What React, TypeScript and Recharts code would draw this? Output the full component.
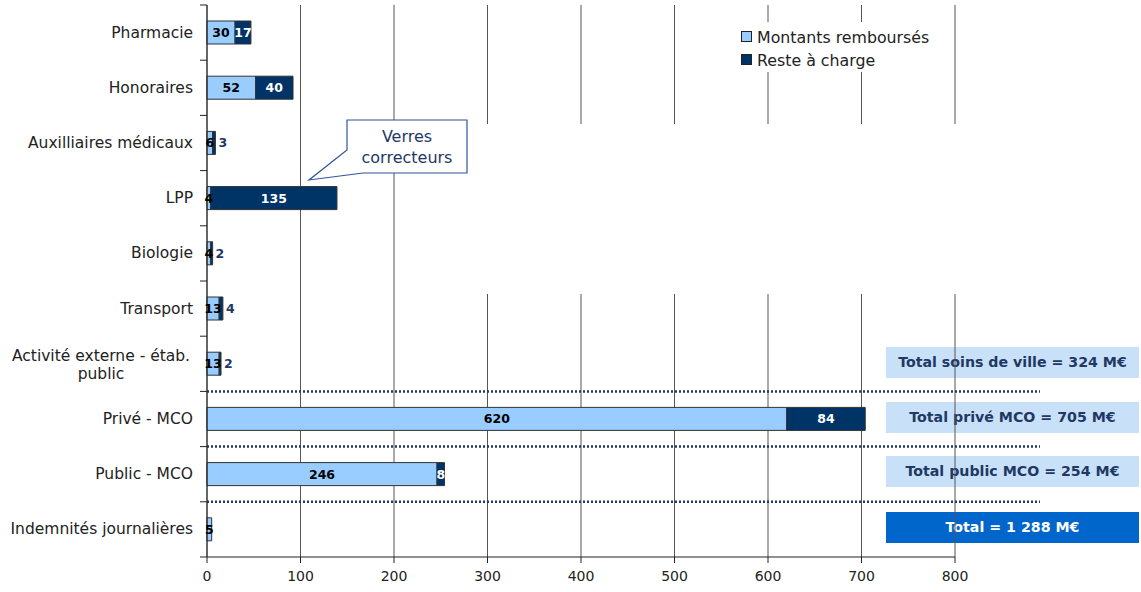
import { BarChart, Bar, XAxis, YAxis, CartesianGrid, LabelList } from 'recharts';

const categories = [
  'Pharmacie',
  'Honoraires',
  'Auxilliaires médicaux',
  'LPP',
  'Biologie',
  'Transport',
  'Activité externe - étab. public',
  'Privé - MCO',
  'Public - MCO',
  'Indemnités journalières',
];
const montantsRembourses = [30, 52, 6, 4, 4, 13, 13, 620, 246, 5];
const resteACharge = [17, 40, 3, 135, 2, 4, 2, 84, 8, 0];
const xTicks = [0, 100, 200, 300, 400, 500, 600, 700, 800];
const totalLabels = [
  'Total soins de ville = 324 M€',
  'Total privé MCO = 705 M€',
  'Total public MCO = 254 M€',
  'Total = 1 288 M€',
];

const data = categories.map((name, i) => ({
  name,
  rembourses: montantsRembourses[i],
  reste: resteACharge[i],
}));

const W = 1141;
const H = 592;
const LEFT = 207;
const TOP = 5;
const PLOT_H = 552;
const BAND = PLOT_H / categories.length;
const FONT = '"DejaVu Sans", sans-serif';
const LIGHT = '#99CCFF';
const DARK = '#003366';
const NAVY = '#1F3864';

const YTick = (props: any) => {
  const { y, payload } = props;
  const idx = payload.index;
  const lines = payload.value === 'Activité externe - étab. public' ? ['Activité externe - étab.', 'public'] : [payload.value];
  return (
    <g>
      <line x1={LEFT - 7} x2={LEFT} y1={y - BAND / 2} y2={y - BAND / 2} stroke='#222' />
      {idx === categories.length - 1 && (
        <line x1={LEFT - 7} x2={LEFT} y1={y + BAND / 2} y2={y + BAND / 2} stroke='#222' />
      )}
      {lines.length === 1 ? (
        <text x={LEFT - 14} y={y} textAnchor='end' dominantBaseline='central' fontFamily={FONT} fontSize={15.5} fill='#222'>
          {lines[0]}
        </text>
      ) : (
        lines.map((l, k) => (
          <text key={k} x={LEFT - 106} y={y - 8 + k * 18} textAnchor='middle' dominantBaseline='central' fontFamily={FONT} fontSize={15.5} fill='#222'>
            {l}
          </text>
        ))
      )}
    </g>
  );
};

const lightLabel = (props: any) => {
  const { x, y, width, height, value } = props;
  if (!value) return null;
  return (
    <text x={x + width / 2} y={y + height / 2} textAnchor='middle' dominantBaseline='central' fontFamily={FONT} fontWeight='bold' fontSize={12.5} fill='#000'>
      {value}
    </text>
  );
};

const darkLabel = (props: any) => {
  const { x, y, width, height, value } = props;
  if (!value) return null;
  const outside = width < 6;
  return (
    <text
      x={outside ? x + width + 3 : x + width / 2}
      y={y + height / 2}
      textAnchor={outside ? 'start' : 'middle'}
      dominantBaseline='central'
      fontFamily={FONT}
      fontWeight='bold'
      fontSize={12.5}
      fill={outside ? NAVY : '#fff'}>
      {value}
    </text>
  );
};

const boxTops = [347, 402, 456, 512];
const sepY = [7, 8, 9].map((k) => TOP + BAND * k);

export default function App() {
  return (
    <div style={{ position: 'relative', width: W, height: H, fontFamily: FONT }}>
      <style>{'body{margin:0}'}</style>
      {totalLabels.map((t, i) => {
        const last = i === totalLabels.length - 1;
        return (
          <div
            key={t}
            style={{
              position: 'absolute',
              left: 886,
              top: boxTops[i],
              width: 253,
              height: 31,
              background: last ? '#0066CC' : '#C9E1F8',
              color: last ? '#fff' : NAVY,
              fontWeight: 'bold',
              fontSize: 14.2,
              lineHeight: '31px',
              textAlign: 'center',
            }}>
            {t}
          </div>
        );
      })}
      <div style={{ position: 'absolute', left: 0, top: 0 }}>
        <BarChart width={W} height={H} data={data} layout='vertical' margin={{ top: TOP, right: 186, bottom: 5, left: 0 }} barSize={23}>
          <CartesianGrid horizontal={false} stroke='#555' />
          <XAxis
            type='number'
            domain={[0, 800]}
            ticks={xTicks}
            height={30}
            tickMargin={8}
            stroke='#222'
            tick={{ fill: '#222', fontSize: 14, fontFamily: FONT }}
          />
          <YAxis type='category' dataKey='name' width={LEFT} stroke='#222' tickLine={false} tick={<YTick />} interval={0} />
          <Bar dataKey='rembourses' stackId='a' fill={LIGHT} stroke='#333' isAnimationActive={false}>
            <LabelList dataKey='rembourses' content={lightLabel} />
          </Bar>
          <Bar dataKey='reste' stackId='a' fill={DARK} stroke='#333' isAnimationActive={false}>
            <LabelList dataKey='reste' content={darkLabel} />
          </Bar>
        </BarChart>
      </div>
      <svg width={W} height={H} style={{ position: 'absolute', left: 0, top: 0, pointerEvents: 'none' }}>
        <rect x={486} y={124} width={520} height={170} fill='#fff' />
        {sepY.map((y) => (
          <line key={y} x1={LEFT} x2={1040} y1={y} y2={y} stroke={NAVY} strokeWidth={2.5} strokeDasharray='2 2' />
        ))}
        <path d='M347 120 H467 V173 H363 L309 180 L347 150 Z' fill='#fff' stroke='#2F5597' strokeWidth={1.2} />
        <text x={407} y={136} textAnchor='middle' dominantBaseline='central' fontFamily={FONT} fontSize={16} fill={NAVY}>
          Verres
        </text>
        <text x={407} y={157} textAnchor='middle' dominantBaseline='central' fontFamily={FONT} fontSize={16} fill={NAVY}>
          correcteurs
        </text>
        <rect x={734} y={22} width={204} height={50} fill='#fff' />
        <rect x={741.5} y={31.5} width={10} height={10} fill={LIGHT} stroke='#222' />
        <text x={757} y={37} dominantBaseline='central' fontFamily={FONT} fontSize={15.8} fill='#222'>
          Montants remboursés
        </text>
        <rect x={741.5} y={54.5} width={10} height={10} fill={DARK} stroke='#222' />
        <text x={757} y={60} dominantBaseline='central' fontFamily={FONT} fontSize={15.8} fill='#222'>
          Reste à charge
        </text>
      </svg>
    </div>
  );
}
